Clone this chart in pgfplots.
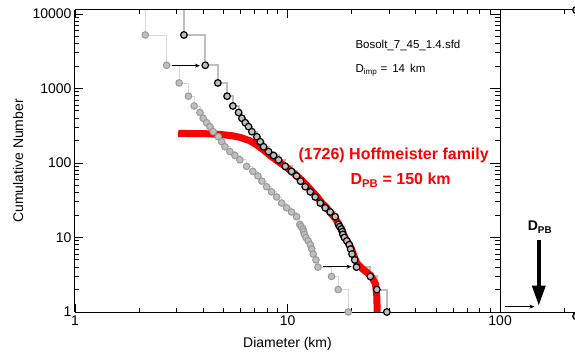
\documentclass[border=0pt]{standalone}
\usepackage{pgfplots}
\pgfplotsset{compat=1.18}
\usepackage{pgfplotstable}
\usepackage{fontspec}
\setmainfont{Liberation Sans}
\usetikzlibrary{arrows.meta}
\pgfkeys{/pgf/number format/assume math mode=true}

\pgfplotstableread{
x y
2.141 11300
2.141 5224
2.698 2048
3.090 1186
3.417 788
3.638 582
3.870 476
4.011 398
4.160 347
4.312 307
4.469 263
4.718 225
4.895 193
5.074 165
5.355 142
5.653 126
5.968 110
6.417 90
6.868 77
7.251 67
7.570 57
7.967 48
8.412 41
8.878 35
9.372 29
9.89 25
10.44 22
11.02 19
11.42 15
11.6 14
11.8 13
11.9 12
12.0 11
12.2 10
12.5 9
12.8 8
13.0 7
13.2 6
13.6 5
13.9 4
16.1 3
17.3 2
19.3 1
}\greydata

\pgfplotstableread{
x y
3.254 11300
3.254 5224
4.101 2048
4.697 1186
5.194 788
5.530 582
5.882 476
6.097 398
6.323 347
6.554 307
6.793 263
7.171 225
7.440 193
7.712 165
8.140 142
8.593 126
9.071 110
9.754 90
10.44 77
11.02 67
11.51 57
12.11 48
12.79 41
13.49 35
14.25 29
15.03 25
15.87 22
16.75 19
17.36 15
17.6 14
17.9 13
18.1 12
18.2 11
18.5 10
19.0 9
19.5 8
19.8 7
20.1 6
20.7 5
21.1 4
24.5 3
26.3 2
29.3 1
}\blackdata

\pgfplotstableread{
x y
3.06 249
4.0 248
4.8 242
5.5 232
6.0 220
6.6 200
7.1 178
7.7 150
8.3 125
8.9 108
9.5 95
10.2 81
11.0 68
11.7 58
12.4 49
13.1 41
13.8 35
14.5 29
15.3 25
16.0 21
16.8 18
17.4 15
18.0 12.5
18.6 10
19.3 8.5
20.0 7
20.6 5.5
21.2 4.5
22.5 3.8
24.6 3.1
25.9 2.4
26.3 1.6
26.4 1.0
}\reddata

\begin{document}
\begin{tikzpicture}
\begin{axis}[
  scale only axis, width=500pt, height=302pt,
  at={(0,0)}, anchor=south west,
  xmode=log, ymode=log, xmin=1, xmax=225, ymin=1, ymax=11300,
  clip=false,
  tick style={black, line width=0.9pt},
  major tick length=8pt, minor tick length=4.5pt,
  tick align=inside,
  axis line style={line width=1pt},
  axis x line*=box, axis y line*=left,
  xtick={1,10,100}, xticklabels={1,10,100},
  minor xtick={2,3,4,5,6,7,8,9,20,30,40,50,60,70,80,90,200},
  ytick={1,10,100,1000,10000},
  yticklabels={1,10,100,1000,10000},
  minor ytick={2,3,4,5,6,7,8,9,20,30,40,50,60,70,80,90,200,300,400,500,600,700,800,900,2000,3000,4000,5000,6000,7000,8000,9000},
  xticklabel pos=lower, yticklabel pos=left, ytick pos=left,
  ticklabel style={font=\fontsize{14}{16}\selectfont},
  xlabel={Diameter (km)}, ylabel={Cumulative Number},
  label style={font=\fontsize{14}{16}\selectfont},
  xlabel style={at={(axis description cs:0.425,-0.106)},anchor=center},
  ylabel style={at={(axis description cs:-0.114,0.5)},anchor=center},
]
\addplot[const plot, gray!30, line width=0.8pt, no marks] table {\greydata};
\addplot[const plot, gray!50, line width=2pt, no marks] table {\blackdata};
\addplot[red, line width=7pt, no marks, line join=round] table {\reddata};
\addplot[only marks, mark=*, mark size=3.3pt, mark options={fill=gray!50, draw=gray!80, line width=1pt}] table[skip coords between index={0}{1}] {\greydata};
\addplot[only marks, mark=*, mark size=3.3pt, mark options={fill=gray!50, draw=black, line width=1.2pt}] table[skip coords between index={0}{1}] {\blackdata};
\addplot[only marks, mark=*, mark size=3.5pt, mark options={fill=gray!55, draw=black, line width=1.2pt}] coordinates {(228,11300) (228,0.88)};

\draw[-{Stealth[length=5pt,width=4pt]}, line width=0.8pt] (axis cs:2.85,2023) -- (axis cs:3.87,2023);
\draw[-{Stealth[length=5pt,width=4pt]}, line width=0.8pt] (axis cs:14.7,4.06) -- (axis cs:20.0,4.06);
\draw[-{Stealth[length=5pt,width=4pt]}, line width=0.8pt] (axis cs:105,1.18) -- (axis cs:145,1.18);
\draw[line width=3.5pt, -{Triangle[width=13pt,length=20pt]}] (axis cs:152,9.25) -- (axis cs:152,1.22);

\node[anchor=west, font=\fontsize{11.5}{13}\selectfont] at (rel axis cs:0.554,0.881) {Bosolt\_7\_45\_1.4.sfd};
\node[anchor=west, font=\fontsize{11.5}{13}\selectfont] at (rel axis cs:0.554,0.801) {D\textsubscript{imp} = \,14\, km};
\node[anchor=west, text=red, font=\bfseries\fontsize{16}{18}\selectfont] at (rel axis cs:0.44,0.52) {(1726) Hoffmeister family};
\node[anchor=west, text=red, font=\bfseries\fontsize{16}{18}\selectfont] at (rel axis cs:0.544,0.437) {D\textsubscript{PB} = 150 km};
\node[font=\bfseries\fontsize{14}{16}\selectfont] at (rel axis cs:0.93,0.281) {D\textsubscript{PB}};
\end{axis}
\begin{axis}[
  scale only axis, width=425.1pt, height=302pt,
  at={(0,0)}, anchor=south west,
  xmode=log, ymode=log, xmin=1, xmax=100, ymin=1, ymax=11300,
  tick style={black, line width=0.9pt},
  major tick length=10pt, minor tick length=5pt,
  tick align=inside,
  axis line style={line width=1pt},
  axis x line=none, axis y line*=right, ytick pos=right,
  ytick={1,10,100,1000,10000}, yticklabels={},
  minor ytick={2,3,4,5,6,7,8,9,20,30,40,50,60,70,80,90,200,300,400,500,600,700,800,900,2000,3000,4000,5000,6000,7000,8000,9000},
]
\addplot[draw=none, no marks] table {\greydata};
\end{axis}
\pgfresetboundingbox
\path[use as bounding box] (-75pt,-39pt) rectangle (500pt,312pt);
\end{tikzpicture}
\end{document}
